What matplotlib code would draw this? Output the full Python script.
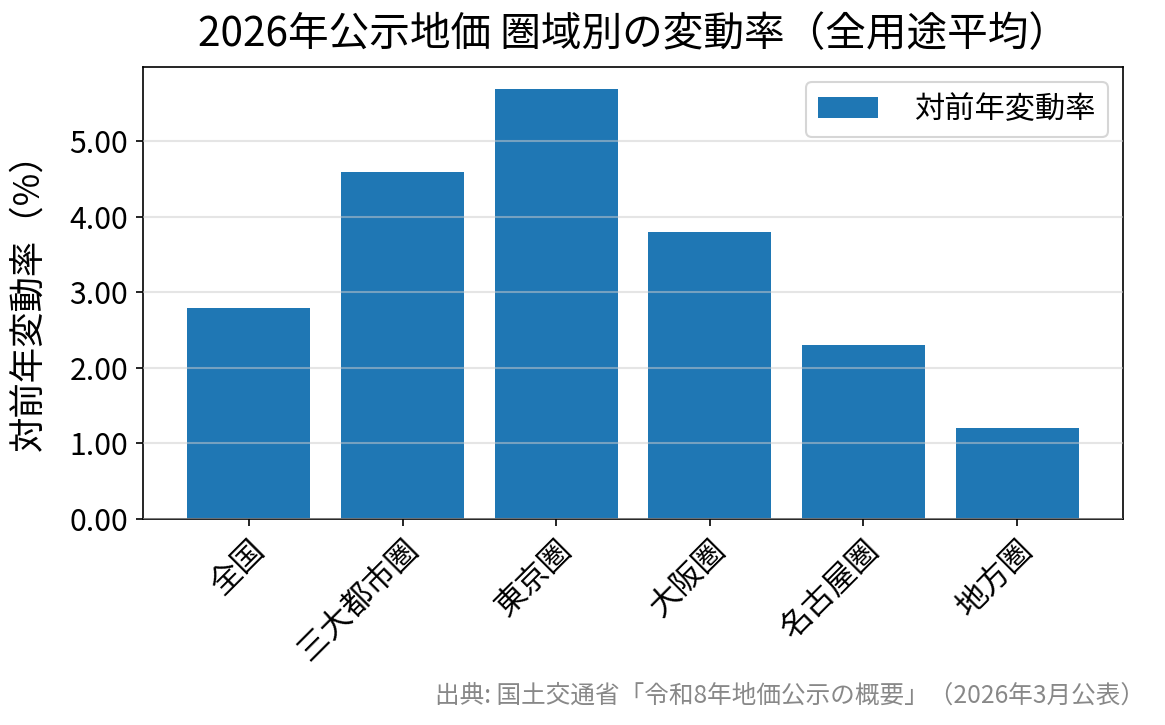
import matplotlib
matplotlib.use("Agg")
import matplotlib.pyplot as plt
from matplotlib.ticker import FormatStrFormatter

plt.rcParams['font.family'] = ['Noto Sans CJK JP', 'DejaVu Sans']

categories = ["全国", "三大都市圏", "東京圏", "大阪圏", "名古屋圏", "地方圏"]
values = [2.8, 4.6, 5.7, 3.8, 2.3, 1.2]
title = "2026年公示地価 圏域別の変動率（全用途平均）"
ylabel = "対前年変動率（%）"
legend_label = "対前年変動率"
source = "出典: 国土交通省「令和8年地価公示の概要」（2026年3月公表）"

fig = plt.figure(figsize=(1165/150, 725/150), dpi=150)
ax = fig.add_axes([0.1227, 0.2841, 0.9640-0.1227, 0.9076-0.2841])
x = list(range(len(categories)))
ax.bar(x, values, width=0.8, color="#1f77b4", label=legend_label)
ax.set_xticks(x)
ax.set_xticklabels(categories, rotation=45, ha="right", rotation_mode="anchor", fontsize=15)
ax.set_ylim(0, 5.985)
ax.yaxis.set_major_formatter(FormatStrFormatter("%.2f"))
ax.tick_params(axis="y", labelsize=14.5)
ax.set_ylabel(ylabel, fontsize=17, labelpad=11)
ax.set_title(title, fontsize=19.5, pad=10)
ax.grid(axis="y", color="#cccccc", alpha=0.5, linewidth=1.0)
ax.set_axisbelow(False)
ax.legend(loc="upper right", fontsize=14.5, handletextpad=1.2)
fig.text(0.983, 0.022, source, ha="right", va="bottom", fontsize=11.8, color="#888888")
fig.savefig("out.png", dpi=150)
